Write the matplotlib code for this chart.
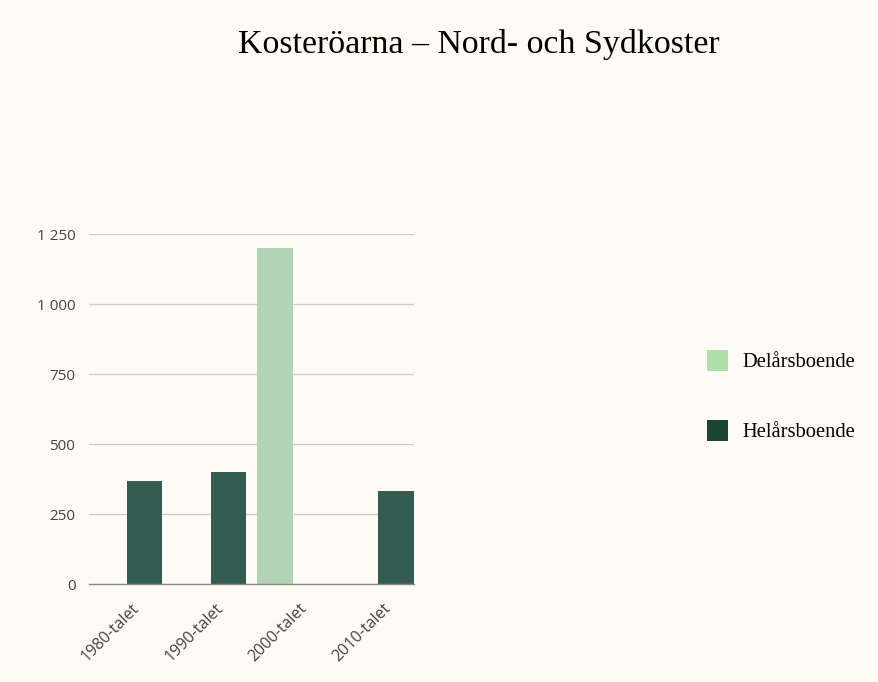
import numpy as np
import matplotlib.pyplot as plt
import matplotlib.transforms as mtransforms
from matplotlib.patches import Patch

# data
decades = ["1980-talet", "1990-talet", "2000-talet", "2010-talet"]
delarsboende = [np.nan, np.nan, 1200, np.nan]
helarsboende = [370, 400, np.nan, 335]
y_ticks = [0, 250, 500, 750, 1000, 1250]

bg = "#fefaf4"
light = "#aedfa8"
dark = "#1b4435"
light_bar = "#b3d3b7"
dark_bar = "#345c50"

fig = plt.figure(figsize=(8.79, 6.82), dpi=100, facecolor=bg)
W, H = 879, 682
ax = fig.add_axes([89.3 / W, 1 - 584.3 / H, (414 - 89.3) / W, (584.3 - 234.3) / H])
ax.set_facecolor(bg)

x = np.arange(len(decades))
width = 0.425
offset = 0.2226
ax.bar(x - offset, delarsboende, width, color=light_bar, zorder=3)
ax.bar(x + offset, helarsboende, width, color=dark_bar, zorder=3)

ax.set_xlim(-offset - width / 2, len(decades) - 1 + offset + width / 2)
ax.set_ylim(0, 1250)
ax.set_yticks(y_ticks)
ax.grid(axis="y", color="#cccccc", linewidth=0.9, zorder=0)
ax.set_axisbelow(True)

for side in ["top", "right", "left"]:
    ax.spines[side].set_visible(False)
ax.spines["bottom"].set_color("#8a8a8a")
ax.spines["bottom"].set_linewidth(1.0)
ax.spines["bottom"].set_zorder(4)
ax.tick_params(length=0)
ax.tick_params(axis="y", pad=10, labelcolor="#444444")
ax.set_yticklabels([f"{v:,}".replace(",", " ") for v in y_ticks],
                   family="Open Sans", fontsize=11)

ax.set_xticks(x)
ax.set_xticklabels(decades, rotation=45, ha="right", va="center",
                   rotation_mode="anchor", family="Open Sans",
                   fontsize=11.5, color="#444444")
shift = mtransforms.ScaledTranslation(0.11, -0.17, fig.dpi_scale_trans)
for lbl in ax.get_xticklabels():
    lbl.set_transform(lbl.get_transform() + shift)

fig.text(479 / W, 1 - 53 / H, "Kosteröarna – Nord- och Sydkoster",
         family="Liberation Serif", fontsize=24.4, ha="center", va="baseline")

handles = [Patch(facecolor=light, edgecolor="none"),
           Patch(facecolor=dark, edgecolor="none")]
fig.legend(handles, ["Delårsboende", "Helårsboende"],
           loc="center left", bbox_to_anchor=(689 / W, 1 - 396 / H),
           frameon=False, prop={"family": "Liberation Serif", "size": 14.8},
           handlelength=1.0, handleheight=1.2, handletextpad=0.7,
           labelspacing=2.3)

fig.savefig("out.png", dpi=100, facecolor=bg)
